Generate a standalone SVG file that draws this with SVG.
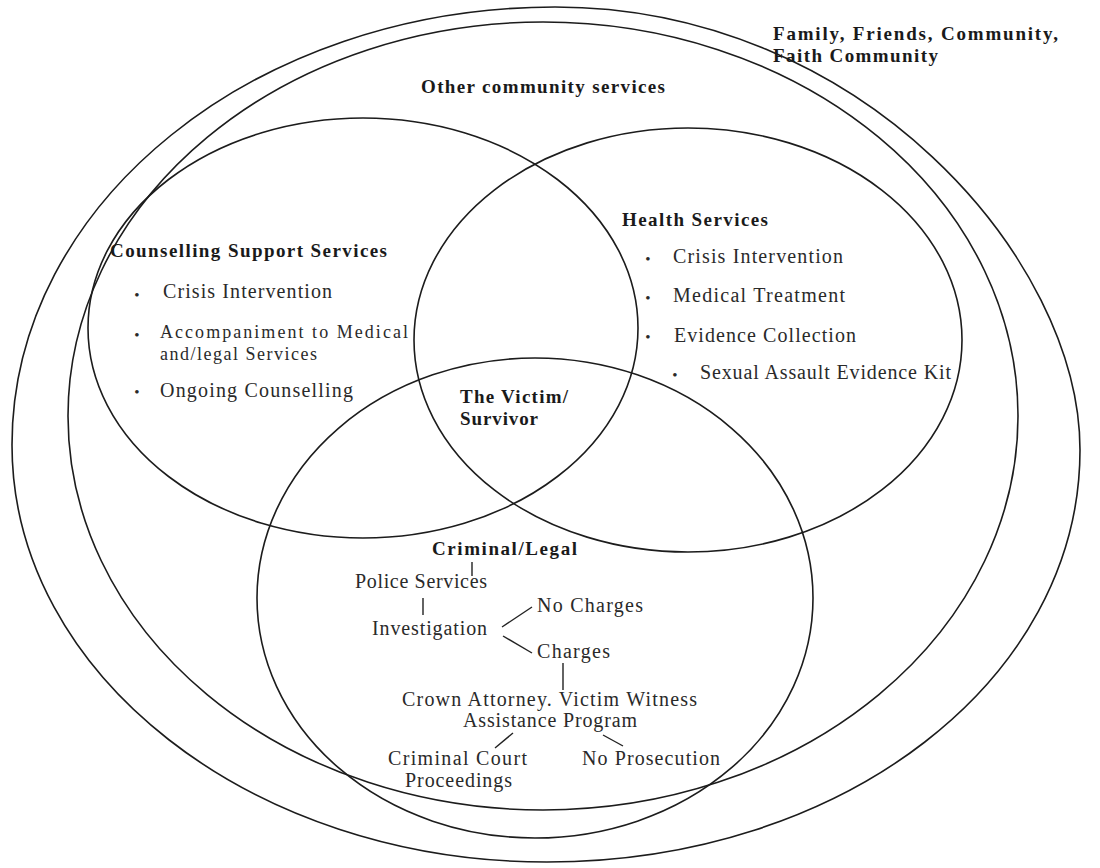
<svg xmlns="http://www.w3.org/2000/svg" width="1100" height="868" viewBox="0 0 1100 868">
<style>
.ring{fill:none;stroke:#1c1c1c;stroke-width:1.6}
.ttl{font-family:"Liberation Serif","Times New Roman",serif;font-size:19px;font-weight:bold;fill:#1a1a1a}
.itm{font-family:"Liberation Serif","Times New Roman",serif;font-size:20px;fill:#2a2a2a}
.sm{font-size:18px}
.tre{font-family:"Liberation Serif","Times New Roman",serif;font-size:20px;fill:#2a2a2a}
.bul{font-family:"Liberation Serif","Times New Roman",serif;font-size:15px;fill:#2a2a2a;text-anchor:middle}
.con{stroke:#222;stroke-width:1.4;fill:none}
</style>
<rect x="0" y="0" width="1100" height="868" fill="#ffffff"/>

<g id="family-friends-community">
<path class="ring" d="M555,7 C861,7 1080,259 1080,450 C1080,680 843,862 547,862 C252,862 12,675 12,445 C12,203 255,7 555,7 Z"/>
<text class="ttl" x="773" y="40" textLength="285" lengthAdjust="spacing">Family, Friends, Community,</text>
<text class="ttl" x="773" y="62" textLength="165" lengthAdjust="spacing">Faith Community</text>
</g>

<g id="other-community-services">
<ellipse class="ring" cx="543" cy="416" rx="475" ry="394"/>
<text class="ttl" x="421" y="93" textLength="244" lengthAdjust="spacing">Other community services</text>
</g>

<g id="counselling-support-services">
<ellipse class="ring" cx="363" cy="328" rx="275" ry="210"/>
<text class="ttl" x="110" y="257" textLength="277" lengthAdjust="spacing">Counselling Support Services</text>
<text class="bul" x="137" y="300">•</text>
<text class="itm" x="163" y="298" textLength="169" lengthAdjust="spacing">Crisis Intervention</text>
<text class="bul" x="137" y="340">•</text>
<text class="itm sm" x="160" y="338" textLength="248" lengthAdjust="spacing">Accompaniment to Medical</text>
<text class="itm sm" x="160" y="360" textLength="157" lengthAdjust="spacing">and/legal Services</text>
<text class="bul" x="137" y="397">•</text>
<text class="itm" x="160" y="397" textLength="193" lengthAdjust="spacing">Ongoing Counselling</text>
</g>

<g id="health-services">
<ellipse class="ring" cx="688" cy="340" rx="274" ry="212"/>
<text class="ttl" x="622" y="226" textLength="146" lengthAdjust="spacing">Health Services</text>
<text class="bul" x="648" y="264">•</text>
<text class="itm" x="673" y="263" textLength="170" lengthAdjust="spacing">Crisis Intervention</text>
<text class="bul" x="648" y="303">•</text>
<text class="itm" x="673" y="302" textLength="172" lengthAdjust="spacing">Medical Treatment</text>
<text class="bul" x="648" y="342">•</text>
<text class="itm" x="674" y="342" textLength="182" lengthAdjust="spacing">Evidence Collection</text>
<text class="bul" x="675" y="380">•</text>
<text class="itm" x="700" y="379" textLength="251" lengthAdjust="spacing">Sexual Assault Evidence Kit</text>
</g>

<g id="criminal-legal">
<ellipse class="ring" cx="535" cy="598" rx="278" ry="240"/>
<text class="ttl" x="432" y="555" textLength="145" lengthAdjust="spacing">Criminal/Legal</text>
</g>

<g id="victim-survivor">
<text class="ttl" x="460" y="403" textLength="108" lengthAdjust="spacing">The Victim/</text>
<text class="ttl" x="460" y="425" textLength="78" lengthAdjust="spacing">Survivor</text>
</g>

<g id="police-services"><text class="tre" x="355" y="588" textLength="132" lengthAdjust="spacing">Police Services</text></g>
<g id="investigation"><text class="tre" x="372" y="635" textLength="115" lengthAdjust="spacing">Investigation</text></g>
<g id="no-charges"><text class="tre" x="537" y="612" textLength="106" lengthAdjust="spacing">No Charges</text></g>
<g id="charges"><text class="tre" x="537" y="658" textLength="73" lengthAdjust="spacing">Charges</text></g>
<g id="crown-attorney">
<text class="tre" x="402" y="706" textLength="295" lengthAdjust="spacing">Crown Attorney. Victim Witness</text>
<text class="tre" x="463" y="727" textLength="174" lengthAdjust="spacing">Assistance Program</text>
</g>
<g id="criminal-court">
<text class="tre" x="388" y="765" textLength="139" lengthAdjust="spacing">Criminal Court</text>
<text class="tre" x="405" y="787" textLength="107" lengthAdjust="spacing">Proceedings</text>
</g>
<g id="no-prosecution"><text class="tre" x="582" y="765" textLength="138" lengthAdjust="spacing">No Prosecution</text></g>

<g id="connectors">
<line class="con" x1="472" y1="562" x2="472" y2="576"/>
<line class="con" x1="423" y1="598" x2="423" y2="615"/>
<line class="con" x1="502" y1="627" x2="532" y2="607"/>
<line class="con" x1="503" y1="636" x2="532" y2="653"/>
<line class="con" x1="563" y1="663" x2="563" y2="690"/>
<line class="con" x1="513" y1="733" x2="495" y2="748"/>
<line class="con" x1="603" y1="735" x2="623" y2="746"/>
</g>
</svg>
